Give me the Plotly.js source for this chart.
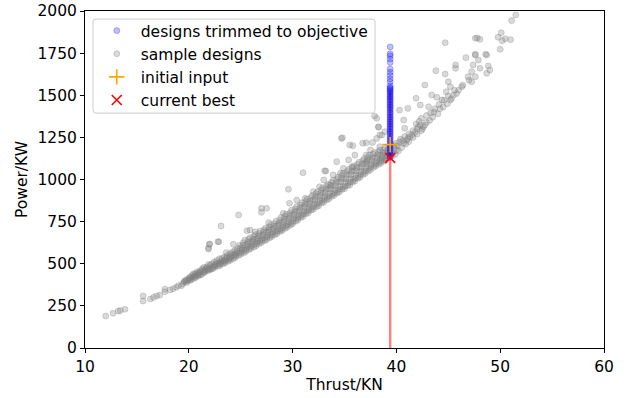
<!DOCTYPE html>
<html>
<head>
<meta charset="utf-8">
<script src="https://cdn.plot.ly/plotly-3.0.1.min.js"></script>
<style>html,body{margin:0;padding:0;background:#fff;}#chart{width:627px;height:398px;}</style>
</head>
<body>
<div id="chart"></div>
<script>
// sample designs: [thrust KN, power KW]
const samplePoints = [
[12.0,190],[12.7,206],[13.2,219],[13.4,222],[13.85,230],[15.6,279],[15.6,309],[16.3,291],[16.6,300],[16.9,309],[17.2,314],[17.7,334],[17.7,349],[18.2,344],[18.5,352],[18.8,360],[19.0,370],[19.3,370],
[19.4,382],[19.6,392],[19.7,400],[19.8,388],
[19.9,398],[20.0,410],[20.1,420],[20.2,404],[20.3,431],
[20.4,412],[20.5,425],[20.6,440],[20.7,419],[20.8,452],
[20.9,428],[21.0,442],[21.1,458],[21.2,437],[21.3,470],[21.4,449],
[21.5,447],[21.6,462],[21.7,480],[21.8,458],[21.9,495],
[22.0,463],[22.1,477],[22.2,500],[22.3,470],[22.4,488],
[22.5,478],[22.6,495],[22.7,520],[22.8,486],[22.9,505],
[23.0,490],[23.1,508],[23.2,532],[23.3,499],[23.4,520],
[23.5,506],[23.6,525],[23.7,548],[23.8,515],[23.9,538],
[24.0,521],[24.1,543],[24.2,570],[24.3,530],[24.4,556],
[24.5,538],[24.6,562],[24.7,590],[24.8,549],[24.9,610],
[25.0,556],[25.1,580],[25.2,608],[25.3,565],[25.4,640],
[25.5,573],[25.6,600],[25.7,628],[25.8,585],[25.9,655],
[26.0,591],[26.1,617],[26.2,645],[26.3,600],[26.4,672],
[26.5,608],[26.6,634],[26.7,665],[26.8,620],[26.9,695],
[27.0,626],[27.1,652],[27.2,685],[27.3,637],[27.4,712],
[27.5,643],[27.6,670],[27.7,703],[27.8,655],[27.9,732],
[28.0,661],[28.1,690],[28.2,722],[28.3,672],[28.4,752],
[28.5,679],[28.6,708],[28.7,742],[28.8,692],[28.9,775],
[29.0,698],[29.1,728],[29.2,765],[29.3,710],[29.4,795],
[29.5,718],[29.6,748],[29.7,785],[29.8,730],[29.9,818],
[30.0,738],[30.1,770],[30.2,808],[30.3,752],[30.4,840],
[30.5,759],[30.6,790],[30.7,830],[30.8,775],[30.9,862],
[31.0,781],[31.1,812],[31.2,852],[31.3,796],[31.4,885],
[31.5,802],[31.6,835],[31.7,873],[31.8,818],[31.9,905],
[32.0,823],[32.1,856],[32.2,895],[32.3,838],[32.4,928],
[32.5,844],[32.6,878],[32.7,918],[32.8,860],[32.9,950],
[33.0,866],[33.1,900],[33.2,940],[33.3,880],[33.4,972],
[33.5,886],[33.6,920],[33.7,960],[33.8,900],[33.9,995],
[34.0,906],[34.1,940],[34.2,982],[34.3,920],[34.4,1015],
[34.5,926],[34.6,962],[34.7,1005],[34.8,942],[34.9,1038],
[35.0,946],[35.1,985],[35.2,1028],[35.3,963],[35.4,1060],
[35.5,968],[35.6,1005],[35.7,1048],[35.8,985],[35.9,1080],
[36.0,991],[36.1,1028],[36.2,1070],[36.3,1008],[36.4,1102],
[36.5,1013],[36.6,1050],[36.7,1092],[36.8,1030],[36.9,1125],
[37.0,1036],[37.1,1072],[37.2,1112],[37.3,1050],[37.4,1145],
[37.5,1058],[37.6,1092],[37.7,1130],[37.8,1072],[37.9,1160],
[38.0,1080],[38.1,1110],[38.2,1148],[38.3,1090],[38.4,1175],
[38.5,1098],[38.6,1125],[38.7,1160],[38.8,1108],[38.9,1185],
[39.0,1116],[39.1,1140],[39.2,1175],
[19.55,395],[19.75,405],[20.05,415],[20.15,403],[20.35,422],[20.45,440],[20.55,418],[20.65,432],[20.85,445],[20.95,435],
[21.05,450],[21.15,433],[21.35,460],[21.45,478],[21.55,455],[21.65,470],[21.85,472],[21.95,468],
[22.05,490],[22.15,469],[22.35,482],[22.45,510],[22.55,488],[22.65,505],[22.85,498],[22.95,530],
[23.05,500],[23.15,520],[23.35,512],[23.45,540],[23.55,515],[23.65,535],[23.85,528],[23.95,560],
[24.05,532],[24.15,555],[24.35,545],[24.45,580],[24.55,550],[24.65,575],[24.85,565],[24.95,595],
[25.05,568],[25.15,590],[25.25,625],[25.35,580],[25.45,612],[25.55,585],[25.65,615],[25.75,645],[25.85,600],[25.95,630],
[26.05,605],[26.15,632],[26.25,662],[26.35,615],[26.45,648],[26.55,622],[26.65,650],[26.75,680],[26.85,635],[26.95,668],
[27.05,640],[27.15,670],[27.25,700],[27.35,652],[27.45,688],[27.55,658],[27.65,688],[27.75,718],[27.85,670],[27.95,705],
[28.05,675],[28.15,708],[28.25,738],[28.35,688],[28.45,725],[28.55,695],[28.65,728],[28.75,760],[28.85,705],[28.95,745],
[29.05,712],[29.15,748],[29.25,782],[29.35,725],[29.45,765],[29.55,732],[29.65,768],[29.75,802],[29.85,745],[29.95,790],
[30.05,752],[30.15,790],[30.25,825],[30.35,768],[30.45,810],[30.55,775],[30.65,812],[30.75,848],[30.85,790],[30.95,835],
[31.05,796],[31.15,835],[31.25,870],[31.35,810],[31.45,855],[31.55,818],[31.65,856],[31.75,892],[31.85,832],[31.95,878],
[32.05,840],[32.15,878],[32.25,915],[32.35,852],[32.45,900],[32.55,862],[32.65,900],[32.75,938],[32.85,875],[32.95,922],
[33.05,882],[33.15,920],[33.25,960],[33.35,895],[33.45,945],[33.55,902],[33.65,942],[33.75,982],[33.85,915],[33.95,965],
[34.05,922],[34.15,962],[34.25,1002],[34.35,935],[34.45,985],[34.55,942],[34.65,985],[34.75,1025],[34.85,955],[34.95,1005],
[35.05,962],[35.15,1005],[35.25,1048],[35.35,978],[35.45,1030],[35.55,985],[35.65,1028],[35.75,1070],[35.85,1000],[35.95,1052],
[36.05,1008],[36.15,1050],[36.25,1090],[36.35,1022],[36.45,1072],[36.55,1030],[36.65,1072],[36.75,1112],[36.85,1045],[36.95,1095],
[37.05,1052],[37.15,1092],[37.25,1130],[37.35,1066],[37.45,1115],[37.55,1075],[37.65,1112],[37.75,1150],[37.85,1088],[37.95,1130],
[38.05,1095],[38.15,1128],[38.25,1165],[38.35,1105],[38.45,1145],[38.55,1112],[38.65,1142],[38.75,1175],[38.85,1122],[38.95,1160],
[39.05,1128],[39.15,1158],[39.25,1190],[39.3,1135],
[39.6,1140],[39.7,1160],[39.8,1185],[39.9,1150],[40.0,1175],[40.1,1200],[40.2,1170],[40.3,1224],[40.3,1412],[40.5,1190],[40.6,1230],[40.7,1215],[40.7,1353],[40.8,1304],[40.9,1210],[41.0,1234],[41.1,1244],[41.1,1422],[41.2,1225],[41.3,1254],[41.5,1264],[41.6,1250],[41.8,1280],[41.9,1482],[42.0,1270],[42.1,1313],[42.3,1323],[42.3,1442],[42.4,1363],[42.5,1300],[42.6,1313],[42.75,1323],[42.75,1561],[42.9,1340],[43.1,1432],[43.2,1350],[43.4,1501],[43.5,1370],[43.6,1400],[43.8,1646],[43.9,1488],[44.0,1390],[44.2,1420],[44.4,1472],[44.5,1430],[44.7,1812],[44.7,1626],[44.8,1521],[44.9,1450],[45.0,1580],[45.2,1472],[45.2,1551],[45.3,1480],[45.5,1501],[45.7,1680],[45.7,1660],[45.8,1510],[46.0,1530],[46.3,1551],[46.4,1560],[46.7,1723],[46.9,1610],[47.0,1590],[47.25,1640],[47.25,1580],[47.4,1680],[47.6,1838],[47.6,1743],[47.6,1610],[47.6,1739],[47.8,1840],[47.9,1709],[48.05,1832],[48.05,1660],[48.6,1743],[48.7,1630],[48.7,1739],[48.85,1674],[49.0,1650],[49.8,1844],[50.0,1773],[50.1,1871],[50.2,1824],[50.5,1835],[51.0,1830],[51.1,1943],[51.5,1976],
[39.8,1200],[40.0,1215],[40.4,1240],[40.8,1255],[41.2,1270],[41.6,1290],[42.0,1300],[42.4,1290],[41.9,1330],[42.2,1345],[42.9,1380],[43.3,1395],[43.7,1420],[44.1,1445],[44.6,1470],[45.0,1495],[45.6,1530],
[31.0,1040],[33.1,1052],[33.2,1050],[34.25,1106],[34.7,1244],[34.8,1248],[35.4,1116],[35.5,1205],[35.8,1201],[36.0,1145],[36.75,1215],[37.1,1218],[37.1,1145],[37.1,1106],[37.5,1175],[37.7,1220],[38.1,1244],[38.1,1363],[38.25,1313],[38.3,1310],[38.4,1264],[38.4,1195],[38.6,1264],[38.6,1135],[38.9,1284],[37.9,1377],[35.7,1076],[34.9,1066],[34.6,1037],[33.9,1027],[33.0,997],[33.6,967],[32.6,957],[32.0,928],[31.2,888],[30.4,878],[29.7,859],[29.6,942],[29.1,800],[27.7,744],[27.5,829],[27.0,829],[27.0,805],[24.8,789],[25.6,696],[25.9,700],[26.4,690],[23.1,724],[22.0,615],[21.9,587],[22.9,631],[23.6,566],[24.3,615],[21.9,593],[22.0,617],[22.8,631]
];
const sampleThrust = samplePoints.map(p => p[0]);
const samplePower = samplePoints.map(p => p[1]);

// designs trimmed to objective
const trimmedThrust = 39.4;
const trimmedPower = [1787,1746,1734,1715,1695,1656,1636,1617,1597,1580,1556,1545,1540,1530,1522,1515,1505,1495,1488,1478,1470,1460,1450,1440,1432,1422,1412,1400,1392,1380,1370,1360,1350,1340,1330,1320,1310,1300,1290,1280,1270,1258,1248,1236,1225,1215,1205,1195,1185,1172,1160,1150,1140,1132];

const initialInput = {thrust: 39.4, power: 1207};
const currentBest = {thrust: 39.4, power: 1128};
const lineTop = 1530;

const font = {family: 'DejaVu Sans', size: 15.5, color: '#000'};

const traces = [
  {
    x: sampleThrust, y: samplePower, type: 'scatter', mode: 'markers',
    name: 'sample designs', legendrank: 2,
    marker: {color: 'rgba(128,128,128,0.3)', size: 6, line: {color: 'rgba(128,128,128,0.3)', width: 1}}
  },
  {
    x: [currentBest.thrust, currentBest.thrust], y: [0, lineTop], type: 'scatter', mode: 'lines',
    showlegend: false, line: {color: 'rgba(255,0,0,0.5)', width: 2.4}
  },
  {
    x: trimmedPower.map(() => trimmedThrust), y: trimmedPower, type: 'scatter', mode: 'markers',
    name: 'designs trimmed to objective', legendrank: 1,
    marker: {color: 'rgba(0,0,255,0.25)', size: 6, line: {color: 'rgba(0,0,255,0.25)', width: 1}}
  },
  {
    x: [initialInput.thrust], y: [initialInput.power], type: 'scatter', mode: 'markers',
    name: 'initial input', legendrank: 3,
    marker: {symbol: 'cross-thin', size: 11, color: 'orange', line: {color: 'orange', width: 1.6}}
  },
  {
    x: [currentBest.thrust], y: [currentBest.power], type: 'scatter', mode: 'markers',
    name: 'current best', legendrank: 4,
    marker: {symbol: 'x-thin', size: 10, color: 'red', line: {color: 'red', width: 1.6}}
  }
];

const axisCommon = {
  showgrid: false, zeroline: false, showline: true, mirror: true,
  linecolor: '#000', linewidth: 1, ticks: 'outside', ticklen: 4, tickcolor: '#000', tickwidth: 1,
  tickfont: font
};

const layout = {
  width: 627, height: 398,
  margin: {l: 85, r: 23, t: 11, b: 50},
  paper_bgcolor: '#fff', plot_bgcolor: '#fff',
  font: font,
  showlegend: true,
  legend: {
    x: 0.015, y: 0.991, xanchor: 'left', yanchor: 'top',
    bgcolor: 'rgba(0,0,0,0)', borderwidth: 0, itemwidth: 38,
    font: font, tracegroupgap: 0
  },
  shapes: [{
    type: 'path', xref: 'paper', yref: 'paper', layer: 'above',
    path: 'M 0.0212,0.976 L 0.553,0.976 Q 0.5588,0.976 0.5588,0.967 L 0.5588,0.706 Q 0.5588,0.697 0.553,0.697 L 0.0212,0.697 Q 0.0154,0.697 0.0154,0.706 L 0.0154,0.967 Q 0.0154,0.976 0.0212,0.976 Z',
    fillcolor: 'rgba(255,255,255,0.8)', line: {color: '#cccccc', width: 1}
  }],
  xaxis: Object.assign({}, axisCommon, {
    range: [10, 60], tickvals: [10, 20, 30, 40, 50, 60],
    title: {text: 'Thrust/KN', font: font, standoff: 4}
  }),
  yaxis: Object.assign({}, axisCommon, {
    range: [0, 2000], tickvals: [0, 250, 500, 750, 1000, 1250, 1500, 1750, 2000],
    title: {text: 'Power/KW', font: font, standoff: 6}
  })
};

Plotly.newPlot('chart', traces, layout, {displayModeBar: false, staticPlot: true});
</script>
</body>
</html>
